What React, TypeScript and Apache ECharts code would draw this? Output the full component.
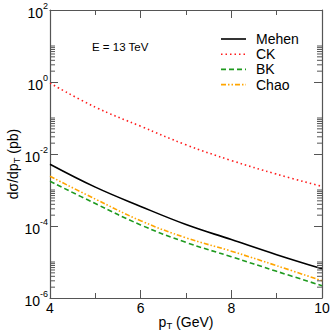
import React, { useEffect, useRef } from "react";
import * as echarts from "echarts";

const pT = [4, 5, 6, 7, 8, 9, 10];
const mehen = [5.2e-3, 1.2e-3, 3.5e-4, 1.1e-4, 4.2e-5, 1.6e-5, 6.5e-6];
const ck = [0.93, 0.2, 0.059, 0.018, 6.6e-3, 2.75e-3, 1.26e-3];
const bk = [1.74e-3, 4.2e-4, 1.07e-4, 3.5e-5, 1.4e-5, 5.5e-6, 2.2e-6];
const chao = [2.4e-3, 5.6e-4, 1.4e-4, 4.7e-5, 2.0e-5, 7.9e-6, 3.0e-6];

const minorDecades = [1e-6, 1e-4, 1e-2, 1];
const minorMultipliers = [2, 3, 4, 5, 6, 7, 8, 9, 10];

const seriesNames = ["Mehen", "CK", "BK", "Chao"];
const seriesColors = ["#000000", "#ff1a1a", "#1f9a1f", "#ffa500"];
const seriesDash: (number[] | null)[] = [null, [1.5, 3], [5, 3], [5, 2, 1.5, 2, 1.5, 2]];

const FONT = "Liberation Sans, Arial, Helvetica, sans-serif";
const AXIS = "#555555";

export default function App() {
  const ref = useRef<HTMLDivElement>(null);
  useEffect(() => {
    if (!ref.current) return;
    const chart = echarts.init(ref.current, null, { renderer: "svg" });
    const pair = (ys: number[]) => pT.map((x, i) => [x, ys[i]]);
    const values = [mehen, ck, bk, chao];
    const minorData: number[][] = [];
    minorDecades.forEach((d) =>
      minorMultipliers.forEach((m) => minorData.push([4, m * d]))
    );
    const yLabel = (v: number) => {
      const e = Math.round(Math.log10(v));
      return `{b|10}{s|${e}}`;
    };
    const xBase = {
      type: "value",
      min: 4,
      max: 10,
      interval: 2,
      axisLine: { show: true, onZero: false, lineStyle: { color: AXIS, width: 1.2 } },
      axisTick: { show: true, inside: true, length: 8, lineStyle: { color: AXIS } },
      minorTick: { show: true, splitNumber: 2, length: 5, lineStyle: { color: AXIS } },
      splitLine: { show: false },
      minorSplitLine: { show: false },
    };
    const yBase = {
      type: "log",
      logBase: 10,
      min: 1e-6,
      max: 100,
      interval: 2,
      axisLine: { show: true, onZero: false, lineStyle: { color: AXIS, width: 1.2 } },
      axisTick: { show: true, inside: true, length: 8, lineStyle: { color: AXIS } },
      splitLine: { show: false },
    };
    const richTitle = {
      m: { fontSize: 14, lineHeight: 16, fontFamily: FONT, fill: "#000" },
      sub: { fontSize: 9.5, lineHeight: 10, padding: [7, 0, 0, 0], fontFamily: FONT, fill: "#000" },
    };
    const legendGraphics: any[] = [];
    seriesNames.forEach((n, i) => {
      const cy = 39 + i * 15.2;
      legendGraphics.push({
        type: "line",
        shape: { x1: 221, y1: cy, x2: 246, y2: cy },
        style: {
          stroke: seriesColors[i],
          lineWidth: 1.6,
          lineDash: seriesDash[i] || undefined,
        },
      });
      legendGraphics.push({
        type: "text",
        x: 256,
        y: cy,
        style: {
          text: n,
          fontSize: 14,
          fill: "#000",
          fontFamily: FONT,
          verticalAlign: "middle",
          align: "left",
        },
      });
    });
    chart.setOption({
      animation: false,
      backgroundColor: "#ffffff",
      textStyle: { fontFamily: FONT },
      grid: { left: 50, right: 13, top: 10, bottom: 36, outerBoundsMode: "none", containLabel: false },
      xAxis: [
        {
          ...xBase,
          position: "bottom",
          axisLabel: { show: true, fontSize: 14, color: "#000", margin: 3, fontFamily: FONT },
        },
        { ...xBase, position: "top", axisLabel: { show: false } },
      ],
      yAxis: [
        {
          ...yBase,
          position: "left",
          axisLabel: {
            show: true,
            margin: 2,
            formatter: yLabel,
            rich: {
              b: { fontSize: 14, color: "#000", fontFamily: FONT, padding: [6, 0, 0, 0] },
              s: { fontSize: 9, color: "#000", fontFamily: FONT, padding: [0, 0, 8, 0] },
            },
          },
        },
        { ...yBase, position: "right", axisLabel: { show: false } },
      ],
      graphic: [
        {
          type: "text",
          x: 92,
          y: 41,
          style: { text: "E = 13 TeV", fontSize: 11.5, fill: "#000", fontFamily: FONT },
        },
        {
          type: "text",
          x: 186,
          y: 322,
          style: {
            text: "{m|p}{sub|T}{m| (GeV)}",
            fontSize: 14,
            fill: "#000",
            fontFamily: FONT,
            align: "center",
            verticalAlign: "middle",
            rich: richTitle,
          },
        },
        {
          type: "text",
          x: 13,
          y: 164,
          rotation: Math.PI / 2,
          style: {
            text: "{m|dσ/dp}{sub|T}{m| (pb)}",
            fontSize: 14,
            fill: "#000",
            fontFamily: FONT,
            align: "center",
            verticalAlign: "middle",
            rich: richTitle,
          },
        },
        ...legendGraphics,
      ],
      series: [
        ...seriesNames.map((n, i) => ({
          name: n,
          type: "line",
          data: pair(values[i]),
          smooth: 0.4,
          showSymbol: false,
          symbol: "none",
          lineStyle: { color: seriesColors[i], width: 1.6, type: seriesDash[i] || "solid" },
          itemStyle: { color: seriesColors[i] },
        })),
        {
          name: "minorTicks",
          type: "custom",
          silent: true,
          clip: false,
          z: 10,
          data: minorData,
          renderItem: (_params: any, api: any) => {
            const v = api.value(1);
            const l = api.coord([4, v]);
            const r = api.coord([10, v]);
            return {
              type: "group",
              children: [
                {
                  type: "line",
                  shape: { x1: l[0], y1: l[1], x2: l[0] + 5, y2: l[1] },
                  style: { stroke: AXIS, lineWidth: 1 },
                },
                {
                  type: "line",
                  shape: { x1: r[0] - 5, y1: r[1], x2: r[0], y2: r[1] },
                  style: { stroke: AXIS, lineWidth: 1 },
                },
              ],
            };
          },
        },
      ],
    });
    return () => chart.dispose();
  }, []);
  return (
    <div
      ref={ref}
      style={{ position: "fixed", left: 0, top: 0, width: 335, height: 334, background: "#fff" }}
    />
  );
}
